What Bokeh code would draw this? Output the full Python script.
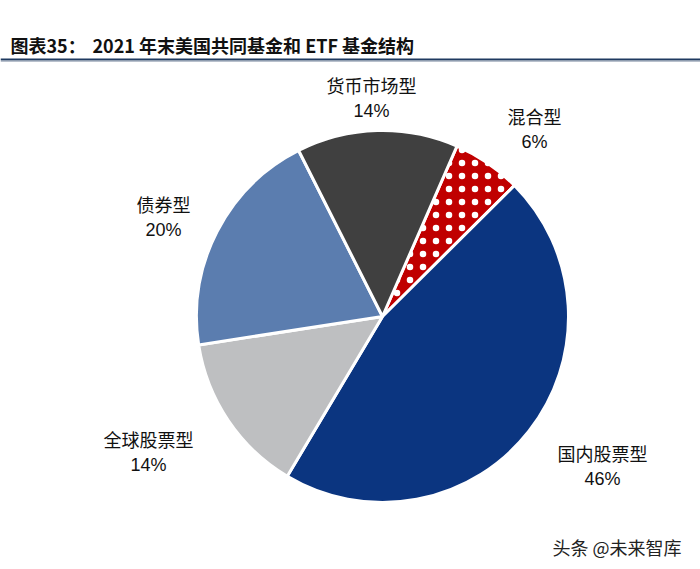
import math
from bokeh.plotting import figure
from bokeh.models import ColumnDataSource
from bokeh.core.properties import value
from bokeh.embed import file_html
from bokeh.resources import INLINE

# ---- data (clockwise from the mixed slice) ----
categories = ["混合型", "国内股票型", "全球股票型", "债券型", "货币市场型"]
shares = [6, 46, 14, 20, 14]
colors = ["#C00000", "#0B3580", "#BEBFC1", "#5B7DAF", "#404040"]
pct_labels = ["6%", "46%", "14%", "20%", "14%"]

title_prefix = "图表35："
title_main = "2021 年末美国共同基金和 ETF 基金结构"

W, H = 700, 569
def X(px):
    return px
def Y(py):
    return H - py

p = figure(width=W, height=H, x_range=(0, W), y_range=(0, H),
           output_backend="svg", toolbar_location=None,
           min_border=0, background_fill_color="white",
           border_fill_color="white", outline_line_color=None)
p.axis.visible = False
p.grid.visible = False

# ---- pie ----
cx, cy, r = X(382), Y(316), 186
start_deg = 23.6  # clockwise from 12 o'clock
total = sum(shares)
starts, ends = [], []
acc = start_deg
for s in shares:
    a0 = acc
    a1 = acc + s / total * 360.0
    starts.append(math.radians(90 - a0))
    ends.append(math.radians(90 - a1))
    acc = a1

src = ColumnDataSource(dict(start=starts, end=ends, color=colors,
                            hatch=["dot", " ", " ", " ", " "]))
p.wedge(x=cx, y=cy, radius=r, start_angle="start", end_angle="end",
        direction="clock", fill_color="color", line_color="white",
        line_width=3, hatch_pattern="hatch", hatch_color="white",
        hatch_scale=13, hatch_weight=0.8, source=src)

# ---- labels ----
label_pos = [(534, 115), (602, 452), (148, 438), (163, 203), (371, 84)]
for name, pct, (lx, ly) in zip(categories, pct_labels, label_pos):
    p.text(x=[X(lx)], y=[Y(ly)], text=[name], text_align="center",
           text_baseline="middle", text_font=value("Noto Sans CJK SC"),
           text_font_size="18px", text_color="#111111")
    p.text(x=[X(lx)], y=[Y(ly + 26)], text=[pct], text_align="center",
           text_baseline="middle", text_font=value("Liberation Sans"),
           text_font_size="18px", text_color="#111111")

# ---- title ----
p.text(x=[X(10)], y=[Y(44)], text=[title_prefix], text_align="left",
       text_baseline="middle", text_font=value("Noto Sans CJK SC"),
       text_font_size="18px", text_font_style="bold", text_color="#111111")
p.text(x=[X(92)], y=[Y(44)], text=[title_main], text_align="left",
       text_baseline="middle", text_font=value("Noto Sans CJK SC"),
       text_font_size="18px", text_font_style="bold", text_color="#111111")
p.line(x=[0, W], y=[Y(59), Y(59)], line_color="#1F3A60", line_width=2)
p.line(x=[0, W], y=[Y(61), Y(61)], line_color="#B8C0CC", line_width=1)

# ---- watermark ----
p.text(x=[X(552)], y=[Y(546)], text=["头条 @未来智库"], text_align="left",
       text_baseline="middle", text_font=value("Noto Sans CJK SC"),
       text_font_size="18px", text_color="#222222")

open("out.html", "w").write(file_html(p, INLINE))
